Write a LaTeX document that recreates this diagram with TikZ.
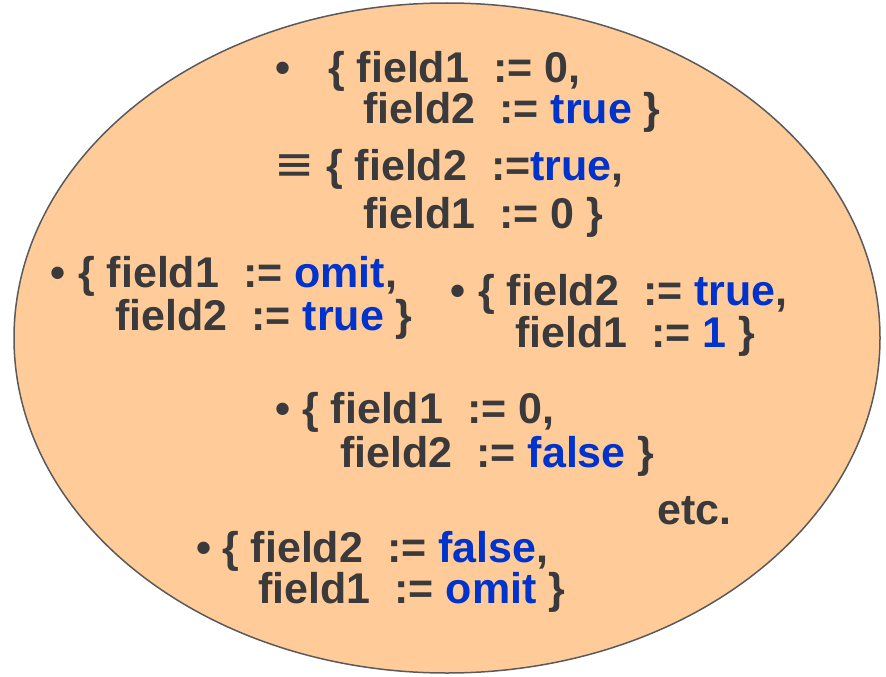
\documentclass[tikz,border=0pt]{standalone}
\usepackage{fontspec}
\setmainfont{Liberation Sans}
\newfontfamily\symfont{DejaVu Sans}
\usetikzlibrary{shapes.geometric}
\definecolor{txt}{HTML}{3A3A3C}
\definecolor{val}{HTML}{0033CC}
\definecolor{peach}{HTML}{FFCC99}
\definecolor{rim}{HTML}{5A5A5A}
\newcommand{\vv}[1]{\textcolor{val}{#1}}
\newcommand{\as}{\ \ :=}
\begin{document}
\begin{tikzpicture}[x=1pt,y=-1pt,
  txtline/.style={anchor=base west, inner sep=0pt, font=\fontsize{43}{43}\selectfont\bfseries, text=txt}]
\useasboundingbox (0,0) rectangle (886,677);
\node[ellipse, draw=rim, fill=peach, line width=1.5pt, inner sep=0pt,
      minimum width=866pt, minimum height=670pt] (set) at (447,338) {};
% block 1
\node[txtline] (b1) at (275,82) {•};
\node[txtline] (l1a) at (328,82) {\{ field1\as{} 0,};
\node[txtline] (l1b) at (363,123) {field2\as{} \vv{true} \}};
\node[txtline] (eq) at (274,180) {\fontsize{48}{48}\symfont\mdseries ≡};
\node[txtline] (l2a) at (326,180) {\{ field2\as\vv{true},};
\node[txtline] (l2b) at (363,228) {field1\as{} 0 \}};
% block 3
\node[txtline] (b3) at (50,287) {•};
\node[txtline] (l3a) at (78,287) {\{ field1\as{} \vv{omit},};
\node[txtline] (l3b) at (115,330) {field2\as{} \vv{true} \}};
% block 4
\node[txtline] (b4) at (450,305) {•};
\node[txtline] (l4a) at (478,305) {\{ field2\as{} \vv{true},};
\node[txtline] (l4b) at (515,347) {field1\as{} \vv{1} \}};
% block 5
\node[txtline] (b5) at (275,423) {•};
\node[txtline] (l5a) at (302,423) {\{ field1\as{} 0,};
\node[txtline] (l5b) at (340,467) {field2\as{} \vv{false} \}};
% etc
\node[txtline] (etc) at (657,524) {etc.};
% block 6
\node[txtline] (b6) at (196,562) {•};
\node[txtline] (l6a) at (222,562) {\{ field2\as{} \vv{false},};
\node[txtline] (l6b) at (258,603) {field1\as{} \vv{omit} \}};
\end{tikzpicture}
\end{document}
